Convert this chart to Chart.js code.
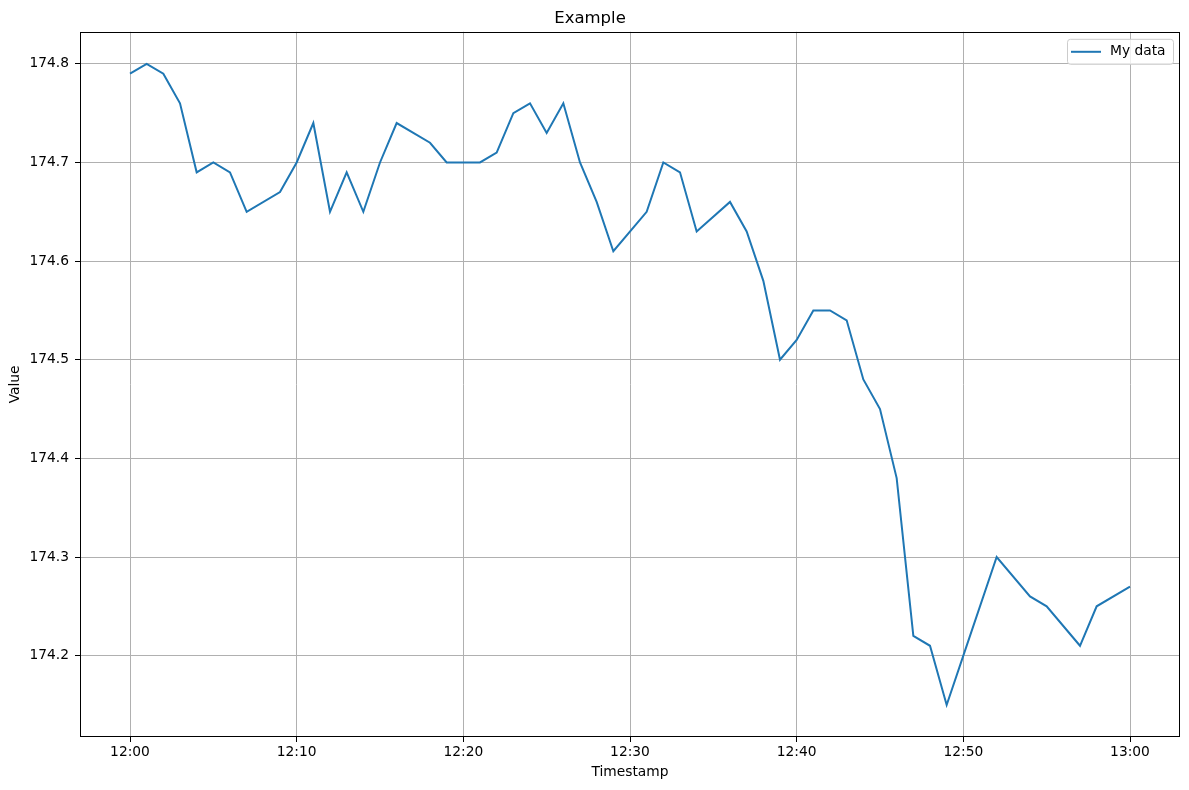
<!DOCTYPE html>
<html>
<head>
<meta charset="utf-8">
<script src="https://cdn.jsdelivr.net/npm/chart.js@4/dist/chart.umd.min.js"></script>
<style>
  body { margin: 0; background: #fff; }
  #wrap { width: 1189px; height: 790px; }
</style>
</head>
<body>
<div id="wrap"><canvas id="myChart" width="1189" height="790"></canvas></div>
<script>
// readings, one per visible vertex
const times = ['12:00','12:01','12:02','12:03','12:04','12:05','12:06','12:07','12:09','12:10',
  '12:11','12:12','12:13','12:14','12:15','12:16','12:18','12:19','12:21','12:22',
  '12:23','12:24','12:25','12:26','12:27','12:28','12:29','12:31','12:32','12:33',
  '12:34','12:36','12:37','12:38','12:39','12:40','12:41','12:42','12:43','12:44',
  '12:45','12:46','12:47','12:48','12:49','12:50','12:52','12:54','12:55','12:57',
  '12:58','13:00']
const values = [174.79,174.80,174.79,174.76,174.69,174.70,174.69,174.65,174.67,174.70,
  174.74,174.65,174.69,174.65,174.70,174.74,174.72,174.70,174.70,174.71,
  174.75,174.76,174.73,174.76,174.70,174.66,174.61,174.65,174.70,174.69,
  174.63,174.66,174.63,174.58,174.50,174.52,174.55,174.55,174.54,174.48,
  174.45,174.38,174.22,174.21,174.15,174.20,174.30,174.26,174.25,174.21,
  174.25,174.27]
const xTickLabels = ['12:00','12:10','12:20','12:30','12:40','12:50','13:00']
const yTickValues = [174.2,174.3,174.4,174.5,174.6,174.7,174.8]

const toMin = (t) => {
  const p = t.split(':')
  return (parseInt(p[0], 10) - 12) * 60 + parseInt(p[1], 10)
}
const toLabel = (m) => {
  const h = 12 + Math.floor(m / 60), mm = m % 60
  return h + ':' + (mm < 10 ? '0' : '') + mm
}

const points = times.map((t, i) => ({ x: toMin(t), y: values[i] }))

Chart.defaults.font.family = 'DejaVu Sans'
Chart.defaults.color = '#000'

// frame round the plot + matplotlib-like legend box
const framePlugin = {
  id: 'frame',
  afterDraw(chart) {
    const { ctx, chartArea: a } = chart
    ctx.save()
    ctx.strokeStyle = '#000'
    ctx.lineWidth = 1
    ctx.strokeRect(Math.round(a.left) + 0.5, Math.round(a.top) + 0.5,
      Math.round(a.right - a.left) - 1, Math.round(a.bottom - a.top) - 1)

    // legend
    const bw = 106, bh = 25
    const bx = a.right - 7 - bw, by = a.top + 7
    ctx.fillStyle = 'rgba(255,255,255,0.8)'
    ctx.strokeStyle = '#cccccc'
    ctx.beginPath()
    ctx.roundRect(bx + 0.5, by + 0.5, bw, bh, 3)
    ctx.fill()
    ctx.stroke()
    ctx.strokeStyle = '#1f77b4'
    ctx.lineWidth = 2
    ctx.beginPath()
    ctx.moveTo(bx + 4, by + 13)
    ctx.lineTo(bx + 34, by + 13)
    ctx.stroke()
    ctx.fillStyle = '#000'
    ctx.font = '13.8px "DejaVu Sans"'
    ctx.textBaseline = 'middle'
    ctx.fillText(chart.data.datasets[0].label, bx + 43, by + 13)
    ctx.restore()
  }
}

const canvas = document.getElementById('myChart')
const myChart = new Chart(canvas, {
  type: 'line',
  data: {
    datasets: [{
      label: 'My data',
      data: points,
      borderColor: '#1f77b4',
      borderWidth: 2,
      pointRadius: 0,
      tension: 0,
      fill: false
    }]
  },
  options: {
    responsive: false,
    animation: false,
    devicePixelRatio: 1,
    layout: { padding: { right: 9, left: 0, top: 0, bottom: 0 } },
    plugins: {
      legend: { display: false },
      tooltip: { enabled: false },
      title: {
        display: true,
        text: 'Example',
        font: { size: 16.5, weight: 'normal' },
        padding: { top: 9, bottom: 3 }
      }
    },
    scales: {
      x: {
        type: 'linear',
        min: -3,
        max: 63,
        afterBuildTicks: (s) => { s.ticks = xTickLabels.map(t => ({ value: toMin(t) })) },
        afterFit: (s) => { s.height = 53 },
        ticks: {
          callback: (v) => toLabel(v),
          font: { size: 13.8 },
          padding: 2,
          maxRotation: 0,
          autoSkip: false
        },
        grid: { color: '#b0b0b0', lineWidth: 1, tickColor: '#000', tickLength: 5 },
        border: { display: false },
        title: { display: true, text: 'Timestamp', font: { size: 13.8 }, padding: { top: 0, bottom: 9 } }
      },
      y: {
        type: 'linear',
        min: 174.1175,
        max: 174.8325,
        afterBuildTicks: (s) => { s.ticks = yTickValues.map(v => ({ value: v })) },
        afterFit: (s) => { s.width = 80 },
        ticks: {
          callback: (v) => v.toFixed(1),
          font: { size: 13.8 },
          padding: 6
        },
        grid: { color: '#b0b0b0', lineWidth: 1, tickColor: '#000', tickLength: 5 },
        border: { display: false },
        title: { display: true, text: 'Value', font: { size: 13.8 }, padding: { top: 7, bottom: 0 } }
      }
    }
  },
  plugins: [framePlugin]
})
</script>
</body>
</html>
